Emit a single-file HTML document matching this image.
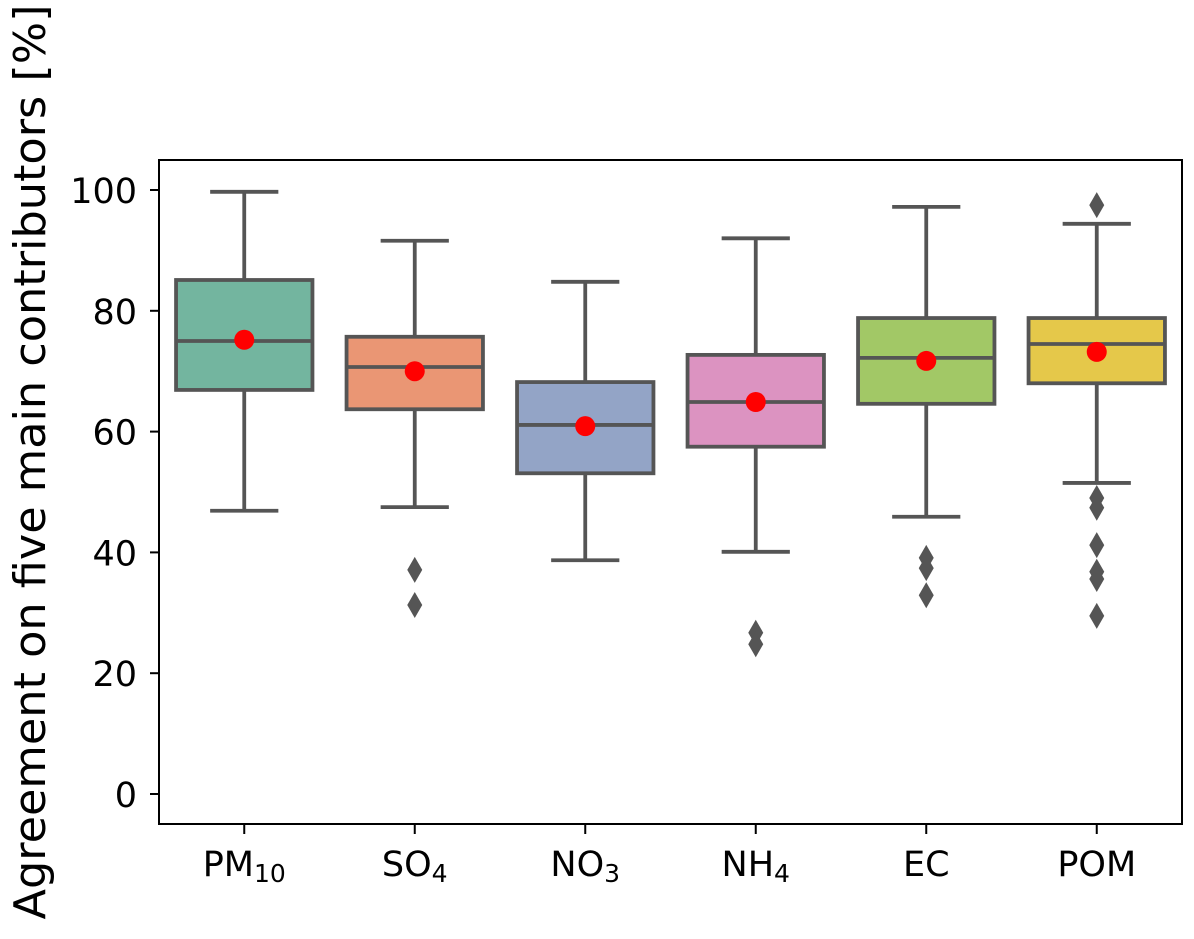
<!DOCTYPE html>
<html><head><meta charset="utf-8"><style>
html,body{margin:0;padding:0;background:#fff;}
svg{display:block;font-family:"DejaVu Sans","Liberation Sans",sans-serif;}
</style></head><body>
<svg id="chart" width="1194" height="939"></svg>
<script>
const categories=["PM","SO","NO","NH","EC","POM"];
const subs=["10","4","3","4","",""];
const whiskerHigh=[99.7,91.6,84.8,92.0,97.2,94.4];
const q3=[85.1,75.7,68.2,72.7,78.8,78.8];
const medians=[75.0,70.7,61.1,64.9,72.2,74.5];
const q1=[66.9,63.7,53.1,57.5,64.6,68.0];
const whiskerLow=[46.9,47.5,38.7,40.1,45.9,51.5];
const means=[75.2,70.0,60.9,64.9,71.7,73.2];
const outliers=[[],[37.1,31.3],[],[26.7,24.8],[39.1,37.4,32.9],[97.5,49.0,47.4,41.2,36.8,35.6,29.5]];
const yTicks=[0,20,40,60,80,100];
const colors=["#73b59f","#ea9674","#93a4c6","#dc93c1","#a2c866","#e5c84a"];

const NS="http://www.w3.org/2000/svg";
const svg=document.getElementById("chart");
const L=159,R=1182,T=160,B=824;
const y=v=>794-v*6.04;
const step=(R-L)/categories.length;
const x=i=>L+step*(i+0.5);
const bw=step*0.8;
function mk(tag,attrs,parent){const e=document.createElementNS(NS,tag);for(const k in attrs)e.setAttribute(k,attrs[k]);(parent||svg).appendChild(e);return e;}

yTicks.forEach(t=>{
  const g=mk("g",{});
  
  
  mk("line",{x1:L-9,x2:L,y1:y(t),y2:y(t),stroke:"#000","stroke-width":2},g);
  const tx=mk("text",{x:L-22,y:y(t)+13,"text-anchor":"end","font-size":35},g);
  tx.textContent=t;
});

categories.forEach((c,i)=>{
  const cx=x(i);
  const g=mk("g",{});
  
  
  const st={stroke:"#555","stroke-width":3.8,fill:"none"};
  mk("line",Object.assign({x1:cx,x2:cx,y1:y(q3[i]),y2:y(whiskerHigh[i])},st),g);
  mk("line",Object.assign({x1:cx,x2:cx,y1:y(q1[i]),y2:y(whiskerLow[i])},st),g);
  mk("line",Object.assign({x1:cx-bw/4,x2:cx+bw/4,y1:y(whiskerHigh[i]),y2:y(whiskerHigh[i])},st),g);
  mk("line",Object.assign({x1:cx-bw/4,x2:cx+bw/4,y1:y(whiskerLow[i]),y2:y(whiskerLow[i])},st),g);
  mk("rect",{x:cx-bw/2,y:y(q3[i]),width:bw,height:y(q1[i])-y(q3[i]),fill:colors[i],stroke:"#555","stroke-width":3.8},g);
  mk("line",Object.assign({x1:cx-bw/2,x2:cx+bw/2,y1:y(medians[i]),y2:y(medians[i])},st),g);
  outliers[i].forEach(o=>{
    const d=mk("path",{d:`M${cx} ${y(o)-13} L${cx+7.5} ${y(o)} L${cx} ${y(o)+13} L${cx-7.5} ${y(o)} Z`,fill:"#555"},g);
    
    
  });
  const m=mk("circle",{cx:cx,cy:y(means[i]),r:10,fill:"#ff0000"},g);
  
  
  mk("line",{x1:cx,x2:cx,y1:B,y2:B+10,stroke:"#000","stroke-width":2});
  const tx=mk("text",{x:cx,y:876,"text-anchor":"middle","font-size":35});
  
  
  tx.textContent=c;
  if(subs[i]){const ts=mk("tspan",{"font-size":25,dy:6},tx);ts.textContent=subs[i];}
});

const frame=mk("rect",{x:L,y:T,width:R-L,height:B-T,fill:"none",stroke:"#000","stroke-width":2});


const yl=mk("text",{x:0,y:0,"text-anchor":"middle","font-size":44,textLength:915,lengthAdjust:"spacingAndGlyphs",transform:"translate(45,462) rotate(-90)"});


yl.textContent="Agreement on five main contributors [%]";
</script>
</body></html>
